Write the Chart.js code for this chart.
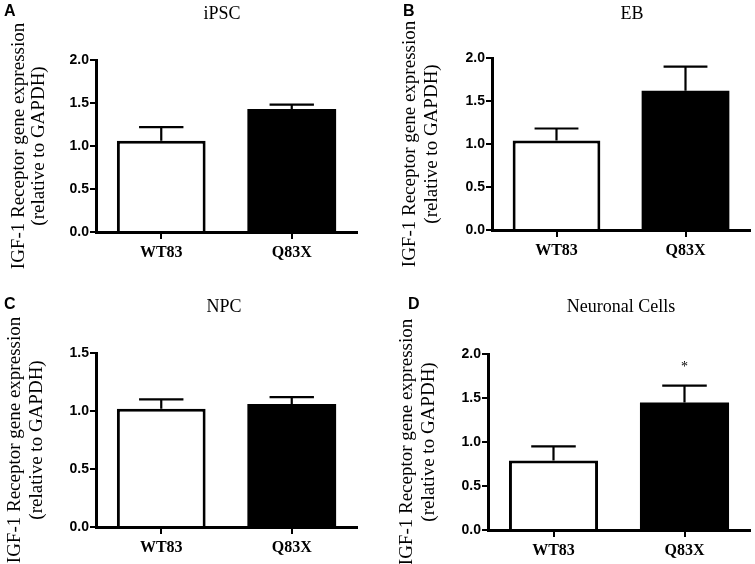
<!DOCTYPE html>
<html>
<head>
<meta charset="utf-8">
<script src="https://cdn.jsdelivr.net/npm/chart.js@4.4.1/dist/chart.umd.min.js"></script>
<style>
  html, body { margin: 0; padding: 0; background: #fff; }
  body { width: 755px; height: 564px; position: relative; overflow: hidden; }
  .panel { position: absolute; }
</style>
</head>
<body>
<div class="panel" style="left:0;top:0;width:377px;height:280px"><canvas id="cA"></canvas></div>
<div class="panel" style="left:377px;top:0;width:378px;height:280px"><canvas id="cB"></canvas></div>
<div class="panel" style="left:0;top:280px;width:377px;height:284px"><canvas id="cC"></canvas></div>
<div class="panel" style="left:377px;top:280px;width:378px;height:284px"><canvas id="cD"></canvas></div>
<script>
// ---- data ----
const categories = ['WT83', 'Q83X'];
const panelLetters = ['A', 'B', 'C', 'D'];
const panelTitles = ['iPSC', 'EB', 'NPC', 'Neuronal Cells'];
const yTitleLines = ['IGF-1 Receptor gene expression', '(relative to GAPDH)'];

const meanA = [1.06, 1.43];
const errA  = [0.16, 0.05];
const meanB = [1.04, 1.62];
const errB  = [0.14, 0.28];
const meanC = [1.02, 1.06];
const errC  = [0.08, 0.06];
const meanD = [0.79, 1.45];
const errD  = [0.16, 0.19];
const sigD  = ['', '*'];

const yMaxA = 2.0, yMaxB = 2.0, yMaxC = 1.5, yMaxD = 2.0;
const yStep = 0.5;

// ---- layout (per panel, local canvas coords) ----
const layouts = [
  { w: 377, h: 280, left: 96, right: 357, top: 60, bottom: 232,
    letter: [4, 4], title: [222, 14], yt: [19, 39] },
  { w: 378, h: 280, left: 115, right: 373, top: 58, bottom: 230,
    letter: [26, 4], title: [255, 14], yt: [33, 55] },
  { w: 377, h: 284, left: 96, right: 357, top: 73, bottom: 247,
    letter: [4, 17], title: [224, 27], yt: [15, 37] },
  { w: 378, h: 284, left: 111, right: 373, top: 74, bottom: 250,
    letter: [31, 17], title: [244, 27], yt: [30, 52] }
];

const panels = [
  { mean: meanA, err: errA, sig: null, ymax: yMaxA },
  { mean: meanB, err: errB, sig: null, ymax: yMaxB },
  { mean: meanC, err: errC, sig: null, ymax: yMaxC },
  { mean: meanD, err: errD, sig: sigD, ymax: yMaxD }
];

const decorPlugin = {
  id: 'decor',
  afterDatasetsDraw(chart, args, opts) {
    const ctx = chart.ctx;
    const meta = chart.getDatasetMeta(0);
    const yScale = chart.scales.y;
    const p = opts.panel, L = opts.layout;
    ctx.save();
    // error bars (upper only)
    ctx.strokeStyle = '#000';
    ctx.lineWidth = 2.2;
    meta.data.forEach((bar, i) => {
      const yTop = yScale.getPixelForValue(p.mean[i]);
      const yErr = yScale.getPixelForValue(p.mean[i] + p.err[i]);
      const half = bar.width / 4;
      ctx.beginPath();
      ctx.moveTo(bar.x, yTop);
      ctx.lineTo(bar.x, yErr);
      ctx.moveTo(bar.x - half, yErr);
      ctx.lineTo(bar.x + half, yErr);
      ctx.stroke();
      if (p.sig && p.sig[i]) {
        ctx.fillStyle = '#000';
        ctx.font = '14px "Liberation Serif"';
        ctx.textAlign = 'center';
        ctx.textBaseline = 'middle';
        ctx.fillText(p.sig[i], bar.x, yErr - 18);
      }
    });
    // panel letter
    ctx.fillStyle = '#000';
    ctx.font = 'bold 16px "Liberation Sans"';
    ctx.textAlign = 'left';
    ctx.textBaseline = 'top';
    ctx.fillText(opts.letter, L.letter[0], L.letter[1]);
    // title
    ctx.font = '18px "Liberation Serif"';
    ctx.textAlign = 'center';
    ctx.textBaseline = 'middle';
    ctx.fillText(opts.title, L.title[0], L.title[1]);
    // y axis title (rotated, two lines)
    const cy = (L.top + L.bottom) / 2;
    ctx.font = '19px "Liberation Serif"';
    yTitleLines.forEach((line, k) => {
      ctx.save();
      ctx.translate(L.yt[k], cy);
      ctx.rotate(-Math.PI / 2);
      ctx.fillText(line, 0, 0);
      ctx.restore();
    });
    ctx.restore();
  }
};

function makeChart(id, idx) {
  const L = layouts[idx], p = panels[idx];
  const el = document.getElementById(id);
  el.width = L.w; el.height = L.h;
  el.style.width = L.w + 'px'; el.style.height = L.h + 'px';
  return new Chart(el, {
    type: 'bar',
    data: {
      labels: categories,
      datasets: [{
        data: p.mean,
        backgroundColor: ['#ffffff', '#000000'],
        borderColor: '#000000',
        borderWidth: [3, 0],
        borderSkipped: 'bottom',
        categoryPercentage: 1.0,
        barPercentage: 0.68
      }]
    },
    options: {
      responsive: false,
      animation: false,
      devicePixelRatio: 1,
      layout: { padding: { left: 0, top: L.top, right: L.w - L.right, bottom: 0 } },
      plugins: {
        legend: { display: false },
        tooltip: { enabled: false },
        decor: { panel: p, layout: L, letter: panelLetters[idx], title: panelTitles[idx] }
      },
      scales: {
        x: {
          afterFit(s) { s.height = L.h - L.bottom; },
          grid: { display: true, drawOnChartArea: false, offset: false, drawTicks: true,
                  tickLength: 7, color: '#000', lineWidth: 2 },
          border: { display: true, color: '#000', width: 3 },
          ticks: { color: '#000', padding: 4,
                   font: { family: '"Liberation Serif"', size: 16, weight: 'bold' } }
        },
        y: {
          min: 0, max: p.ymax,
          afterFit(s) { s.width = L.left; },
          grid: { display: true, drawOnChartArea: false, drawTicks: true,
                  tickLength: 6, color: '#000', lineWidth: 2 },
          border: { display: true, color: '#000', width: 3 },
          ticks: { stepSize: yStep, color: '#000', padding: 1,
                   callback: v => Number(v).toFixed(1),
                   font: { family: '"Liberation Sans"', size: 14, weight: 'bold' } }
        }
      }
    },
    plugins: [decorPlugin]
  });
}

makeChart('cA', 0);
makeChart('cB', 1);
makeChart('cC', 2);
makeChart('cD', 3);
</script>
</body>
</html>
